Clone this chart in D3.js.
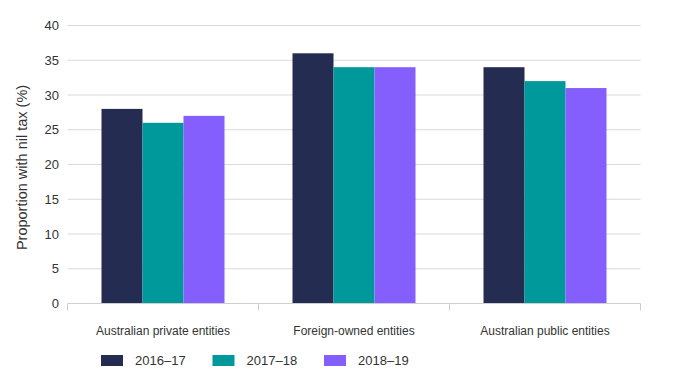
<!DOCTYPE html>
<html>
<head>
<meta charset="utf-8">
<script src="https://cdn.jsdelivr.net/npm/d3@7"></script>
<style>
  body { margin: 0; background: #fff; }
  text { font-family: "Liberation Sans", Arial, sans-serif; fill: #333; }
</style>
</head>
<body>
<svg id="chart" width="689" height="379"></svg>
<script>
const categories = ["Australian private entities", "Foreign-owned entities", "Australian public entities"];
const seriesNames = ["2016–17", "2017–18", "2018–19"];
const values2016 = [28, 36, 34];
const values2017 = [26, 34, 32];
const values2018 = [27, 34, 31];
const yTicks = [0, 5, 10, 15, 20, 25, 30, 35, 40];
const colors = ["#252c52", "#00999b", "#845ffd"];

const seriesValues = [values2016, values2017, values2018];
const svg = d3.select("#chart");
const mLeft = 67.5, mRight = 640.5, mTop = 25.5, mBottom = 303.5;

const x0 = d3.scaleBand().domain(categories).range([mLeft, mRight]).padding(0);
const bw = x0.bandwidth();
const x1 = d3.scaleBand().domain(seriesNames).range([bw * 0.178, bw * 0.822]).padding(0);
const y = d3.scaleLinear().domain([0, 40]).range([mBottom, mTop]);

// gridlines
svg.append("g").selectAll("line").data(yTicks.filter(d => d > 0)).join("line")
  .attr("x1", mLeft).attr("x2", mRight)
  .attr("y1", d => y(d)).attr("y2", d => y(d))
  .attr("stroke", "#d9d9d9").attr("stroke-width", 1);

// y tick labels
svg.append("g").selectAll("text").data(yTicks).join("text")
  .attr("x", 59).attr("y", d => y(d)).attr("dy", "0.35em")
  .attr("text-anchor", "end").attr("font-size", 13).text(d => d);

// bars
const groups = svg.append("g").selectAll("g").data(categories).join("g")
  .attr("transform", d => `translate(${x0(d)},0)`);
groups.selectAll("rect").data((d, i) => seriesNames.map((s, j) => ({ s, v: seriesValues[j][i], j })))
  .join("rect")
  .attr("x", d => x1(d.s)).attr("width", x1.bandwidth())
  .attr("y", d => y(d.v)).attr("height", d => y(0) - y(d.v))
  .attr("fill", d => colors[d.j]);

// x axis
const xAxis = svg.append("g").attr("transform", `translate(0,${mBottom})`);
xAxis.append("line").attr("x1", mLeft).attr("x2", mRight).attr("y1", 0).attr("y2", 0)
  .attr("stroke", "#cfcfcf");
const bounds = categories.map(c => x0(c)).concat([mRight]);
xAxis.selectAll("line.tick").data(bounds).join("line").attr("class", "tick")
  .attr("x1", d => d).attr("x2", d => d).attr("y1", 0).attr("y2", 7)
  .attr("stroke", "#cfcfcf");
xAxis.selectAll("text").data(categories).join("text")
  .attr("x", d => x0(d) + bw / 2).attr("y", 31)
  .attr("text-anchor", "middle").attr("font-size", 12).text(d => d);

// y title
svg.append("text")
  .attr("transform", `translate(27,${(mTop + mBottom) / 2 + 3}) rotate(-90)`)
  .attr("text-anchor", "middle").attr("font-size", 14.5)
  .attr("fill", "#222")
  .text("Proportion with nil tax (%)");

// legend
const lg = svg.append("g").selectAll("g").data(seriesNames).join("g")
  .attr("transform", (d, i) => `translate(${101 + i * 111.5},355)`);
lg.append("rect").attr("width", 22).attr("height", 11).attr("fill", (d, i) => colors[i]);
lg.append("text").attr("x", 34).attr("y", 5.5).attr("dy", "0.35em")
  .attr("font-size", 13).text(d => d);
</script>
</body>
</html>
